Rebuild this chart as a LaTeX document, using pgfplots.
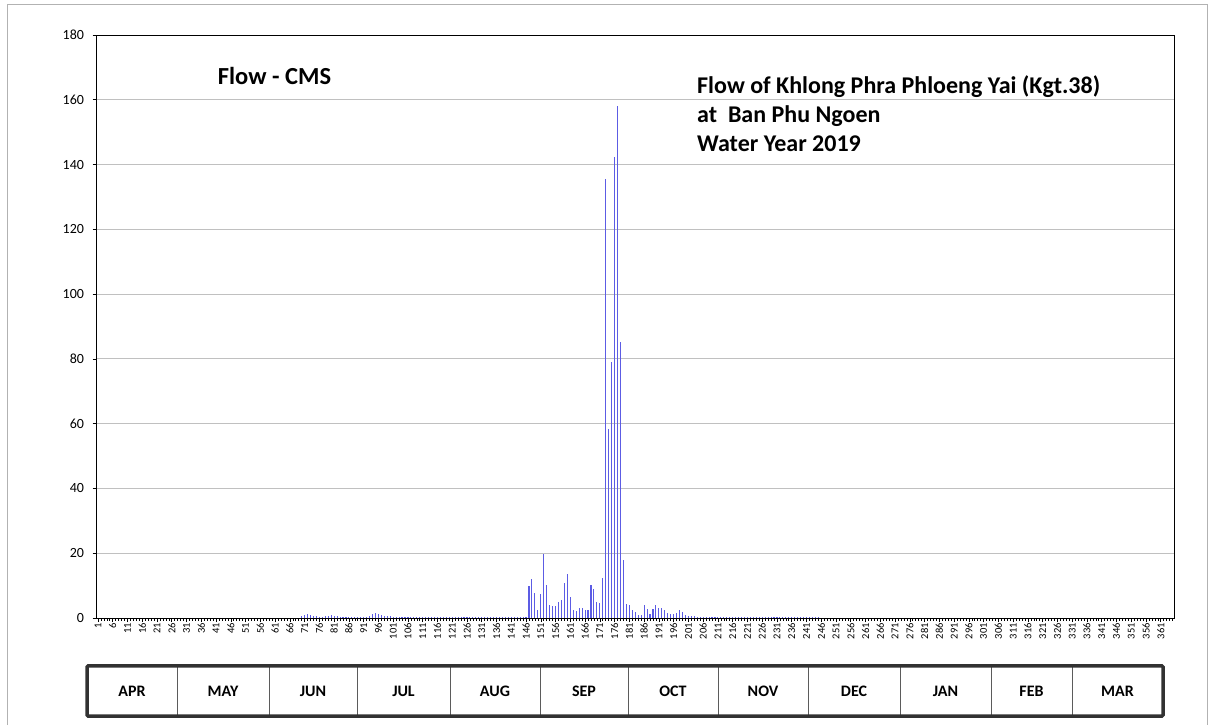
\documentclass[border=0pt]{standalone}
\usepackage{pgfplots}
\pgfplotsset{compat=1.18}
\usepackage{pgfplotstable}
\usepackage{fontspec}
\setmainfont{Carlito}
\definecolor{barblue}{RGB}{92,92,228}
\definecolor{gridgray}{RGB}{192,192,192}
\definecolor{boxdark}{RGB}{50,50,50}
\pgfplotstableread{
d v
70 0.5
71 1.0
72 1.2
73 0.9
74 0.7
75 0.5
76 0.4
77 0.4
78 0.5
79 0.6
80 0.8
81 0.7
82 0.5
83 0.4
84 0.3
85 0.2
86 0.2
87 0.2
88 0.2
89 0.2
90 0.2
91 0.3
92 0.4
93 0.6
94 1.3
95 1.5
96 1.3
97 1.0
98 0.7
99 0.6
100 0.5
101 0.4
102 0.4
103 0.4
104 0.3
105 0.3
106 0.3
107 0.3
108 0.3
109 0.3
110 0.3
111 0.3
112 0.3
113 0.3
114 0.3
115 0.3
116 0.3
117 0.3
118 0.3
119 0.3
120 0.3
121 0.3
122 0.3
123 0.3
124 0.3
125 0.3
126 0.3
127 0.3
128 0.3
129 0.2
130 0.2
131 0.2
132 0.2
133 0.2
134 0.2
135 0.2
136 0.2
137 0.2
138 0.2
139 0.2
140 0.2
141 0.2
142 0.3
143 0.3
144 0.3
145 0.3
146 0.3
147 9.9
148 12.1
149 7.8
150 2.5
151 7.5
152 19.9
153 10.2
154 4.1
155 3.8
156 3.8
157 4.8
158 5.7
159 10.9
160 13.5
161 6.5
162 2.6
163 2.3
164 3.1
165 3.0
166 2.6
167 2.6
168 10.2
169 8.9
170 5.0
171 4.7
172 12.4
173 135.5
174 58.5
175 79.0
176 142.2
177 158.0
178 85.2
179 17.8
180 4.3
181 3.9
182 2.5
183 1.7
184 1.0
185 1.0
186 4.1
187 2.8
188 1.3
189 2.9
190 3.9
191 3.2
192 3.1
193 2.4
194 1.6
195 1.3
196 1.1
197 1.5
198 2.5
199 1.9
200 1.0
201 0.7
202 0.6
203 0.5
204 0.4
205 0.4
206 0.4
207 0.4
208 0.35
209 0.35
210 0.35
211 0.35
212 0.35
213 0.35
214 0.35
215 0.35
216 0.35
217 0.35
218 0.35
219 0.35
220 0.35
221 0.35
222 0.3
223 0.3
224 0.3
225 0.3
226 0.3
227 0.3
228 0.3
229 0.3
230 0.3
231 0.3
232 0.3
233 0.3
234 0.25
235 0.25
236 0.25
237 0.25
238 0.25
239 0.25
240 0.25
241 0.25
242 0.25
243 0.25
244 0.2
245 0.2
}\flowdata
\begin{document}
\begin{tikzpicture}[x=1pt,y=1pt]
% outer frame
\draw[gray!60, line width=1pt] (7,0) -- (7,720) -- (1207,720) -- (1207,0);
\begin{axis}[
  at={(96.5pt,107pt)}, anchor=south west,
  scale only axis, width=1077.5pt, height=583pt,
  xmin=0.5, xmax=365.5, ymin=0, ymax=180,
  xtick={1,6,...,361},
  minor xtick={1,...,365},
  ytick={0,20,...,180},
  xtick pos=lower, ytick pos=left,
  tick align=outside,
  major tick length=4pt, minor tick length=3pt,
  every tick/.style={black, line width=0.6pt},
  ymajorgrids,
  grid style={gridgray, line width=0.9pt},
  axis line style={black, line width=0.9pt},
  /pgf/number format/assume math mode=true,
  yticklabel style={font=\fontsize{14}{16}\selectfont, xshift=-5pt},
  xticklabel style={rotate=90, anchor=east, font=\fontsize{10.5}{11}\selectfont, inner sep=1pt},
  clip=false,
]
\addplot[ycomb, draw=barblue, line width=1.1pt, mark=none] table[x=d, y=v] {\flowdata};
\end{axis}
% titles
\node[anchor=base, font=\fontsize{24.5}{28}\selectfont\bfseries] at (274.5,640.5) {Flow - CMS};
\node[anchor=base west, font=\fontsize{24}{28}\selectfont\bfseries, inner sep=0pt] at (697,631.5) {Flow of Khlong Phra Phloeng Yai (Kgt.38)};
\node[anchor=base west, font=\fontsize{24}{28}\selectfont\bfseries, inner sep=0pt] at (697,602.5) {at\ \ Ban Phu Ngoen};
\node[anchor=base west, font=\fontsize{24}{28}\selectfont\bfseries, inner sep=0pt] at (697,573.5) {Water Year 2019};
% month box
\foreach \xa/\xb/\m in {87/177/APR,177/269/MAY,269/357/JUN,357/450/JUL,450/540/AUG,540/628/SEP,628/718/OCT,718/808/NOV,808/900/DEC,900/991/JAN,991/1072/FEB,1072/1163/MAR}{
  \draw[boxdark!80, line width=1pt] (\xa,9) -- (\xa,59);
  \node[font=\fontsize{16}{18}\selectfont\bfseries] at ({(\xa+\xb)/2},34) {\m};
}
\draw[boxdark, line width=3.5pt, rounded corners=1pt] (87,9) rectangle (1163,59);
\pgfresetboundingbox
\path[use as bounding box] (0,0) rectangle (1209,725);
\end{tikzpicture}
\end{document}
